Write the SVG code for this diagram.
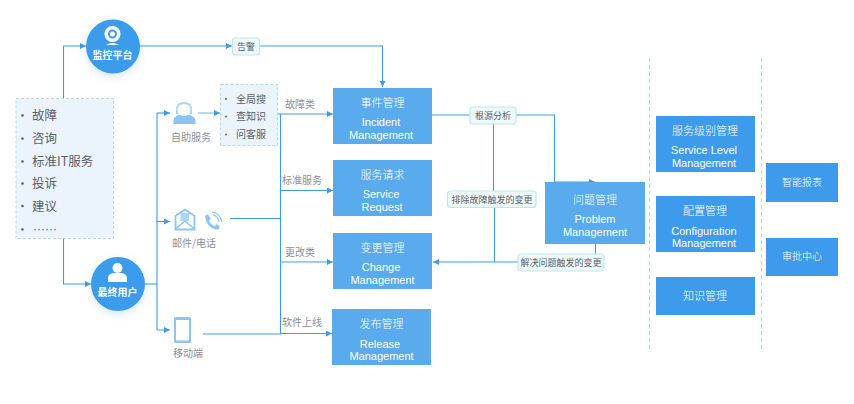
<svg xmlns="http://www.w3.org/2000/svg" width="854" height="404" viewBox="0 0 854 404">
<style>
text{font-family:"Liberation Sans","Noto Sans CJK SC",sans-serif;text-anchor:middle}
.zh{font-family:"Noto Sans CJK SC","Liberation Sans",sans-serif}
.cn{font-family:"Noto Sans CJK SC",sans-serif;font-size:11px;fill:#fff;font-weight:300}
.en{font-size:11px;fill:#fff}
.a{fill:#5aaaee}.b{fill:#3e9bec}
.lb{font-family:"Noto Sans CJK SC",sans-serif;font-size:10px;fill:#8c9097}
.li{font-family:"Noto Sans CJK SC",sans-serif;font-size:12.500px;fill:#5a6068;text-anchor:start}
.sl{font-family:"Noto Sans CJK SC",sans-serif;font-size:10px;fill:#5a6068;text-anchor:start}
.pill{fill:#eef9fa;stroke:#bfe8ec;stroke-width:1.2}
.pt{font-family:"Noto Sans CJK SC",sans-serif;font-size:9px;fill:#5a6068}
.c{fill:none;stroke:#3e9bec;stroke-width:1.1}
.ic{fill:#8cc4f4}
.dot{fill:#5a6068}
</style>
<defs>
<marker id="ar" markerWidth="7" markerHeight="7" refX="6" refY="3" orient="auto" markerUnits="userSpaceOnUse"><path d="M0 0L6 3L0 6z" fill="#3e9bec"/></marker>
<filter id="sh" x="-30%" y="-30%" width="160%" height="170%"><feDropShadow dx="0" dy="3" stdDeviation="4" flood-color="#3e7fb8" flood-opacity=".2"/></filter>
</defs>
<g id="connectors">
<path class="c" marker-end="url(#ar)" d="M63.500 98V46H86"/>
<path class="c" marker-end="url(#ar)" d="M63.500 238V284H91"/>
<path class="c" marker-end="url(#ar)" d="M140 46H232"/>
<path class="c" marker-end="url(#ar)" d="M260 46H382.500V87"/>
<path class="c" d="M145 284H157"/>
<path class="c" marker-end="url(#ar)" d="M157 113V330H170"/>
<path class="c" marker-end="url(#ar)" d="M157 113H170"/>
<path class="c" marker-end="url(#ar)" d="M157 221.500H170"/>
<path class="c" stroke-opacity=".7" marker-end="url(#ar)" d="M198 113H220"/>
<path class="c" marker-end="url(#ar)" d="M277 114H333"/>
<path class="c" d="M280.500 114V334"/>
<path class="c" marker-end="url(#ar)" d="M280.500 190.500H333"/>
<path class="c" marker-end="url(#ar)" d="M280.500 262H333"/>
<path class="c" marker-end="url(#ar)" d="M203 334H280.500V333.500H332"/>
<path class="c" d="M230 218.500H280.500"/>
<path class="c" d="M432 115H470"/>
<path class="c" marker-end="url(#ar)" d="M516 115H554.500V182H595"/>
<path class="c" d="M493.500 124V191"/>
<path class="c" d="M494.500 207V262"/>
<path class="c" d="M595.500 244V254"/>
<path class="c" marker-end="url(#ar)" d="M518 262H433"/>
<path d="M649.500 58V350M761.500 58V350" fill="none" stroke="#b5d6ef" stroke-width="1" stroke-dasharray="4 3"/>
</g>
<g id="sources">
<rect x="16" y="98.500" width="97.500" height="140" fill="#ebf4fd" stroke="#b3d9f7" stroke-dasharray="3 2"/>
<g class="dot"><circle cx="22.500" cy="115.500" r="1.300"/><circle cx="22.500" cy="138.500" r="1.300"/><circle cx="22.500" cy="161.500" r="1.300"/><circle cx="22.500" cy="183.500" r="1.300"/><circle cx="22.500" cy="206" r="1.300"/><circle cx="22.500" cy="229.500" r="1.300"/></g>
<text class="li" x="32" y="120">故障</text><text class="li" x="32" y="143">咨询</text><text class="li" x="32" y="166">标准IT服务</text><text class="li" x="32" y="188">投诉</text><text class="li" x="32" y="211">建议</text><text x="33" y="233" font-size="12" fill="#5a6068" style="text-anchor:start">······</text>
</g>
<g id="monitor">
<circle cx="113" cy="46.500" r="27" fill="#3e9bec" filter="url(#sh)"/>
<circle cx="112.500" cy="34" r="8" fill="#fff"/><circle cx="112.500" cy="34" r="4.500" fill="#3e9bec"/><circle cx="112.500" cy="34" r="2.500" fill="#fff"/>
<path d="M106 45Q112.500 41 119 45z" fill="#fff"/>
<text class="zh" x="112.500" y="59" font-size="10" font-weight="700" fill="#fff">监控平台</text>
</g>
<g id="enduser">
<circle cx="118" cy="284" r="27" fill="#3e9bec" filter="url(#sh)"/>
<circle cx="117.500" cy="268" r="5" fill="#fff"/>
<path d="M108 282V278Q108 274 113 273H122Q127 274 127 278V282z" fill="#fff"/>
<text class="zh" x="117.500" y="296" font-size="10" font-weight="700" fill="#fff">最终用户</text>
</g>
<g id="alert"><rect class="pill" x="232.500" y="38" width="27" height="17" rx="2.500"/><text class="pt" x="246" y="50">告警</text></g>
<g id="selfservice">
<path class="ic" opacity=".75" d="M176 110Q176 102 184 102Q192 102 192 110V114H176z"/>
<path d="M177.500 110Q177.500 104 184 104Q190.500 104 190.500 110Q190.500 115 184 116.500Q177.500 115 177.500 110z" fill="#fff"/>
<path class="ic" d="M173.500 124V120Q174 116 180 114.500Q184 118 188 114.500Q194.500 116 195.500 120V124z"/>
<text class="lb" x="191" y="141">自助服务</text>
</g>
<g id="options">
<rect x="220.500" y="84.500" width="57" height="61" fill="#ebf4fd" stroke="#b3d9f7" stroke-dasharray="3 2"/>
<g class="dot"><circle cx="226" cy="99" r="1"/><circle cx="226" cy="116.500" r="1"/><circle cx="226" cy="134.500" r="1"/></g>
<text class="sl" x="236" y="102.500">全局搜</text><text class="sl" x="236" y="120">查知识</text><text class="sl" x="236" y="138">问客服</text>
</g>
<g id="mailphone">
<path d="M175.500 216L185 209.500L194.500 216V229.500H175.500z" fill="#fff" stroke="#8cc4f4" stroke-width="1.800"/>
<rect x="180.500" y="213" width="8.500" height="8" class="ic" opacity=".7"/>
<path d="M175.500 229L185 221L194.500 229" fill="none" stroke="#8cc4f4" stroke-width="1.500"/>
<path class="ic" d="M205 216Q208 213 209 216L211 219L209 221Q211 225 215 226L217 224L220 227Q219 230 216 229.500Q206 227 205 216z"/>
<path d="M212 212Q220 213 222 222M213 215Q218 216 219 222" fill="none" stroke="#8cc4f4" stroke-width="1.200"/>
<text class="lb" x="194" y="247">邮件/电话</text>
</g>
<g id="mobile">
<rect x="174" y="317" width="17" height="26" rx="1.500" class="ic"/><rect x="176" y="320" width="13" height="20.500" fill="#fff"/>
<text class="lb" x="188" y="357">移动端</text>
</g>
<g id="edgelabels">
<text class="lb" x="300" y="108">故障类</text><text class="lb" x="302" y="184">标准服务</text><text class="lb" x="300" y="256">更改类</text><text class="lb" x="302" y="326">软件上线</text>
</g>
<g id="incident"><rect class="a" x="333" y="88" width="99" height="56"/><text class="cn" x="382.500" y="107">事件管理</text><text class="en" x="381" y="126">Incident</text><text class="en" x="381" y="139">Management</text></g>
<g id="request"><rect class="a" x="333" y="160" width="99" height="56"/><text class="cn" x="382.500" y="179">服务请求</text><text class="en" x="381" y="198">Service</text><text class="en" x="382" y="211">Request</text></g>
<g id="change"><rect class="a" x="333" y="233" width="99" height="56"/><text class="cn" x="382.500" y="252">变更管理</text><text class="en" x="381" y="271">Change</text><text class="en" x="382.500" y="284">Management</text></g>
<g id="release"><rect class="a" x="332" y="309" width="99" height="56"/><text class="cn" x="381.500" y="328">发布管理</text><text class="en" x="380" y="347.500">Release</text><text class="en" x="381.500" y="360">Management</text></g>
<g id="problem"><rect class="a" x="545" y="182" width="100" height="62"/><text class="cn" x="595" y="204">问题管理</text><text class="en" x="595" y="223">Problem</text><text class="en" x="595" y="236">Management</text></g>
<g id="rootcause"><rect class="pill" x="470" y="107" width="46" height="17" rx="3"/><text class="pt" x="493" y="118.500">根源分析</text></g>
<g id="fixincident"><rect class="pill" x="447.500" y="191" width="88.500" height="16.500" rx="3"/><text class="pt" x="492" y="202.500">排除故障触发的变更</text></g>
<g id="fixproblem"><rect class="pill" x="518" y="254" width="86" height="17" rx="3"/><text class="pt" x="561" y="265.500">解决问题触发的变更</text></g>
<g id="sla"><rect class="b" x="656" y="116" width="99" height="56"/><text class="cn" x="705" y="135">服务级别管理</text><text class="en" x="704" y="154">Service Level</text><text class="en" x="704" y="167">Management</text></g>
<g id="config"><rect class="b" x="656" y="196" width="99" height="56"/><text class="cn" x="705" y="215">配置管理</text><text class="en" x="704" y="235">Configuration</text><text class="en" x="704" y="247">Management</text></g>
<g id="knowledge"><rect class="b" x="656" y="277" width="99" height="38"/><text class="cn" x="705" y="299.500">知识管理</text></g>
<g id="report"><rect class="b" x="766" y="163" width="72" height="39"/><text class="cn" x="802" y="186" style="font-size:10px">智能报表</text></g>
<g id="approval"><rect class="b" x="766" y="238" width="72" height="38"/><text class="cn" x="802" y="260" style="font-size:10px">审批中心</text></g>
</svg>
